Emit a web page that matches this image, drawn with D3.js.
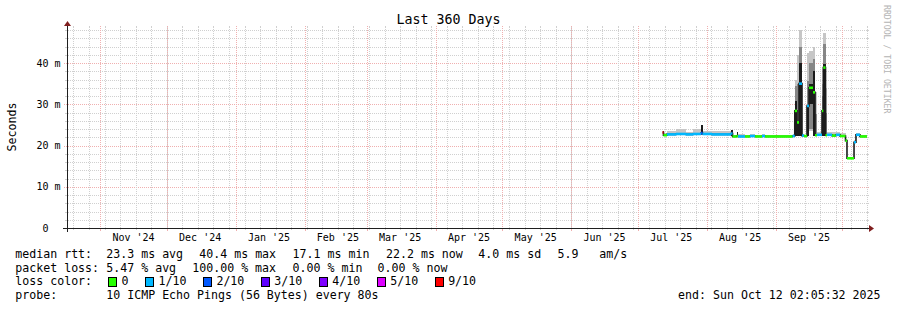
<!DOCTYPE html>
<html>
<head>
<meta charset="utf-8">
<script src="https://cdn.jsdelivr.net/npm/d3@7"></script>
<style>
  html, body { margin: 0; padding: 0; background: #fff; }
  svg { display: block; font-family: "DejaVu Sans Mono", monospace; }
  text { white-space: pre; }
</style>
</head>
<body>
<div id="chart"></div>
<script>
// ---- data ----
const title = "Last 360 Days";
const yLabel = "Seconds";
const watermark = "RRDTOOL / TOBI OETIKER";
const rangeStart = "2024-10-17T02:05:32";
const rangeEnd = "2025-10-12T02:05:32";

const yTicks = [0, 10, 20, 30, 40];
const yTickLabels = ["0  ", "10 m", "20 m", "30 m", "40 m"];

const monthStarts = ["2024-11-01", "2024-12-01", "2025-01-01", "2025-02-01", "2025-03-01",
  "2025-04-01", "2025-05-01", "2025-06-01", "2025-07-01", "2025-08-01", "2025-09-01"];
const monthLabels = ["Nov '24", "Dec '24", "Jan '25", "Feb '25", "Mar '25",
  "Apr '25", "May '25", "Jun '25", "Jul '25", "Aug '25", "Sep '25"];

// each step holds from its start until the next start (values in ms)
const stepStart = [
  "2025-07-12T02", "2025-07-12T12", "2025-07-14T02", "2025-07-18T03", "2025-07-22T15",
  "2025-07-25T19", "2025-07-29T10", "2025-07-30T02", "2025-08-03T08", "2025-08-11T22",
  "2025-08-12T14", "2025-08-14T10", "2025-08-15T01", "2025-08-18T05", "2025-08-20T10",
  "2025-08-22T17", "2025-08-25T20", "2025-08-27T05", "2025-09-08T14", "2025-09-09T14",
  "2025-09-10T14", "2025-09-11T12", "2025-09-12T20", "2025-09-13T17", "2025-09-15T02",
  "2025-09-16T00", "2025-09-17T19", "2025-09-18T17", "2025-09-19T14", "2025-09-21T20",
  "2025-09-22T10", "2025-09-23T10", "2025-09-24T02", "2025-09-26T08", "2025-09-28T02",
  "2025-09-29T22", "2025-10-02T10", "2025-10-03T02", "2025-10-06T06", "2025-10-07T03",
  "2025-10-08T22"];
const median = [
  23.2, 22.5, 22.7, 22.8, 22.7, 22.8, 23.0, 22.8, 22.7, 22.9,
  22.2, 22.3, 22.2, 22.2, 22.3, 22.2, 22.3, 22.2, 22.3, 28.4,
  25.6, 35.0, 22.4, 22.3, 29.6, 34.0, 32.9, 22.5, 22.6, 28.4,
  38.9, 22.5, 22.6, 22.4, 22.6, 22.3, 21.2, 16.9, 20.8, 22.6,
  22.2];
const lossCount = [
  9, 0, 1, 1, 1, 1, 2, 1, 1, 1,
  0, 0, 1, 0, 1, 0, 1, 0, 1, 0,
  0, 1, 1, 0, 1, 0, 0, 0, 1, 0,
  0, 0, 1, 0, 1, 0, 0, 0, 1, 1,
  0];
const smokeLo = [
  22.8, 22.4, 22.5, 22.6, 22.5, 22.6, 22.7, 22.6, 22.5, 22.6,
  22.1, 22.1, 22.1, 22.1, 22.1, 22.1, 22.1, 22.1, 22.1, 22.4,
  22.4, 22.4, 22.2, 22.1, 22.4, 23.6, 22.4, 22.3, 22.3, 22.4,
  22.4, 22.3, 22.4, 22.3, 22.4, 22.2, 21.0, 16.8, 20.6, 22.4,
  22.1];
const smokeHi = [
  23.6, 23.0, 23.6, 24.0, 23.4, 24.0, 25.0, 23.5, 23.6, 23.7,
  22.6, 23.4, 22.7, 22.6, 22.7, 22.5, 22.7, 22.5, 22.8, 36.0,
  42.0, 48.0, 22.8, 22.6, 42.5, 43.0, 44.0, 33.0, 23.2, 35.0,
  47.3, 34.0, 23.4, 23.2, 23.4, 23.0, 21.6, 17.3, 21.4, 23.0,
  22.6];
const midLo = [
  null, null, null, null, null, null, null, null, null, null,
  null, null, null, null, null, null, null, null, null, 22.4,
  23.0, 22.4, null, null, 22.4, 24.0, 22.4, 22.4, null, 22.4,
  22.4, 22.4, null, null, null, null, null, null, null, null,
  null];
const midHi = [
  null, null, null, null, null, null, null, null, null, null,
  null, null, null, null, null, null, null, null, null, 34.4,
  35.0, 44.0, null, null, 35.7, 40.0, 41.0, 27.7, null, 32.0,
  44.5, 28.0, null, null, null, null, null, null, null, null,
  null];
const coreLo = [
  22.6, null, null, null, null, null, 22.7, null, null, 22.3,
  null, 22.2, null, null, null, null, null, null, null, 22.4,
  22.4, 22.4, null, null, 22.4, 30.0, 22.4, null, null, 22.4,
  22.4, null, null, null, null, null, null, null, null, null,
  null];
const coreHi = [
  23.6, null, null, null, null, null, 25.0, null, null, 23.7,
  null, 23.4, null, null, null, null, null, null, null, 30.8,
  25.6, 40.0, null, null, 29.6, 35.0, 38.0, null, null, 28.4,
  39.7, null, null, null, null, null, null, null, null, null,
  null];

const lossLevels = ["0", "1/10", "2/10", "3/10", "4/10", "5/10", "9/10"];
const lossColors = ["#26ff00", "#00b8ff", "#0059ff", "#5e00ff", "#7e00ff", "#dd00ff", "#ff0000"];

const rttStats = ["23.3 ms avg", "40.4 ms max", "17.1 ms min", "22.2 ms now", "4.0 ms sd", "5.9", "am/s"];
const lossStats = ["5.47 % avg", "100.00 % max", "0.00 % min", "0.00 % now"];
const probeText = "10 ICMP Echo Pings (56 Bytes) every 80s";
const endText = "end: Sun Oct 12 02:05:32 2025";

// ---- layout ----
const width = 897, height = 310;
const xOrigin = 67, yOrigin = 228, xSize = 800, ySize = 200;
const yMax = 48.5;
const legendFont = 11.6;
const rowY = [258, 271.7, 285.3, 299];
const rttCols = [106.3, 199.3, 292.6, 386, 478.3, 557.6, 599.3];
const lossCols = [106.3, 192.3, 292.6, 377.6];

const parseFull = d3.utcParse("%Y-%m-%dT%H:%M:%S");
const parseHour = d3.utcParse("%Y-%m-%dT%H");
const parseDay = d3.utcParse("%Y-%m-%d");
const t0 = parseFull(rangeStart), t1 = parseFull(rangeEnd);

const x = d3.scaleUtc().domain([t0, t1]).range([xOrigin, xOrigin + xSize]);
const y = d3.scaleLinear().domain([0, yMax]).range([yOrigin, yOrigin - ySize]);
const snap = (v) => Math.round(v) + 0.5;

const svg = d3.select("#chart").append("svg")
  .attr("width", width).attr("height", height)
  .attr("viewBox", [0, 0, width, height]);

svg.append("rect").attr("width", width).attr("height", height).attr("fill", "#fff");

const minorCol = "#d0d0d0", majorCol = "#f0b0b0";

// ---- grid ----
const grid = svg.append("g").attr("shape-rendering", "crispEdges");
const yMinor = y.ticks(25).filter((v) => v % 10 !== 0);
grid.selectAll(".hminor").data(yMinor).join("line")
  .attr("x1", xOrigin - 1).attr("x2", xOrigin + xSize + 1)
  .attr("y1", (d) => snap(y(d))).attr("y2", (d) => snap(y(d)))
  .attr("stroke", minorCol).attr("stroke-dasharray", "1,1");
grid.selectAll(".hminort").data(yMinor).join("path")
  .attr("d", (d) => `M${xOrigin - 2},${snap(y(d))}H${xOrigin}M${xOrigin + xSize},${snap(y(d))}H${xOrigin + xSize + 2}`)
  .attr("stroke", minorCol);
grid.selectAll(".hmajor").data(yTicks.slice(1)).join("line")
  .attr("x1", xOrigin - 3).attr("x2", xOrigin + xSize + 2)
  .attr("y1", (d) => snap(y(d))).attr("y2", (d) => snap(y(d)))
  .attr("stroke", majorCol).attr("stroke-dasharray", "1,1");

const weeks = d3.utcSunday.range(t0, t1);
grid.selectAll(".vminor").data(weeks).join("line")
  .attr("x1", (d) => snap(x(d))).attr("x2", (d) => snap(x(d)))
  .attr("y1", yOrigin + 2).attr("y2", yOrigin - ySize - 2)
  .attr("stroke", minorCol).attr("stroke-dasharray", "1,1");
grid.selectAll(".vminort").data(weeks).join("path")
  .attr("d", (d) => `M${snap(x(d))},${yOrigin}V${yOrigin + 2}M${snap(x(d))},${yOrigin - ySize}V${yOrigin - ySize - 2}`)
  .attr("stroke", minorCol);
const months = d3.utcMonth.range(t0, t1);
grid.selectAll(".vmajor").data(months).join("line")
  .attr("x1", (d) => snap(x(d))).attr("x2", (d) => snap(x(d)))
  .attr("y1", yOrigin + 3).attr("y2", yOrigin - ySize - 2)
  .attr("stroke", majorCol).attr("stroke-dasharray", "1,1");
grid.selectAll(".vmajort").data(months).join("path")
  .attr("d", (d) => `M${snap(x(d))},${yOrigin}V${yOrigin + 3}`)
  .attr("stroke", majorCol);

// ---- data ----
const steps = stepStart.map((s, i) => ({
  t0: parseHour(s),
  t1: i + 1 < stepStart.length ? parseHour(stepStart[i + 1]) : t1,
  med: median[i], loss: lossCount[i],
  sLo: smokeLo[i], sHi: smokeHi[i],
  mLo: midLo[i], mHi: midHi[i],
  cLo: coreLo[i], cHi: coreHi[i],
}));

const plot = svg.append("g").attr("shape-rendering", "crispEdges");
const band = (cls, lo, hi, fill) =>
  plot.selectAll("." + cls).data(steps.filter((d) => d[lo] != null)).join("rect")
    .attr("class", cls)
    .attr("x", (d) => Math.round(x(d.t0)))
    .attr("width", (d) => Math.max(1, Math.round(x(d.t1)) - Math.round(x(d.t0))))
    .attr("y", (d) => Math.round(y(d[hi])))
    .attr("height", (d) => Math.max(1, Math.round(y(d[lo])) - Math.round(y(d[hi]))))
    .attr("fill", fill);
band("smoke", "sLo", "sHi", "#c6c6c6");
band("mid", "mLo", "mHi", "#868686");
band("core", "cLo", "cHi", "#1c1c1c");

const medPts = steps.map((d) => [x(d.t0), y(d.med)]);
medPts.push([x(t1), y(median[median.length - 1])]);
svg.append("path")
  .attr("d", d3.line().curve(d3.curveStepAfter)(medPts))
  .attr("fill", "none").attr("stroke", "#1c1c1c").attr("stroke-width", 1.6);

const lossIndex = (n) => (n >= 6 ? 6 : n);
svg.selectAll(".med").data(steps).join("line")
  .attr("x1", (d) => x(d.t0)).attr("x2", (d) => x(d.t1))
  .attr("y1", (d) => y(d.med)).attr("y2", (d) => y(d.med))
  .attr("stroke", (d) => lossColors[lossIndex(d.loss)])
  .attr("stroke-width", 2.6);

// ---- axes ----
const axisCol = "#1f1f1f", arrowCol = "#801f1f";
svg.append("path")
  .attr("d", `M${xOrigin - 4},${yOrigin + 0.5}H${xOrigin + xSize + 4}M${xOrigin + 0.5},${yOrigin + 4}V${yOrigin - ySize - 4}`)
  .attr("stroke", axisCol).attr("fill", "none").attr("shape-rendering", "crispEdges");
svg.append("path")
  .attr("d", `M${xOrigin + xSize + 2},${yOrigin - 3}L${xOrigin + xSize + 7},${yOrigin + 0.5}L${xOrigin + xSize + 2},${yOrigin + 4}Z`)
  .attr("fill", arrowCol);
svg.append("path")
  .attr("d", `M${xOrigin - 3},${yOrigin - ySize - 2}L${xOrigin + 0.5},${yOrigin - ySize - 7}L${xOrigin + 4},${yOrigin - ySize - 2}Z`)
  .attr("fill", arrowCol);

svg.selectAll(".ylab").data(yTicks).join("text")
  .attr("x", 60.5).attr("y", (d) => y(d) + 3.6)
  .attr("text-anchor", "end").attr("font-size", 10).attr("fill", "#000")
  .text((d, i) => yTickLabels[i]);

svg.selectAll(".xlab").data(monthStarts).join("text")
  .attr("x", (d) => x(d3.utcDay.offset(parseDay(d), 15)))
  .attr("y", 241)
  .attr("text-anchor", "middle").attr("font-size", 10).attr("fill", "#000")
  .text((d, i) => monthLabels[i]);

// ---- titles ----
svg.append("text").attr("x", 448.5).attr("y", 24)
  .attr("text-anchor", "middle").attr("font-size", 13.3).attr("fill", "#000")
  .text(title);
svg.append("text").attr("transform", "translate(15.5,127) rotate(-90)")
  .attr("text-anchor", "middle").attr("font-size", legendFont).attr("fill", "#000")
  .text(yLabel);
svg.append("text").attr("transform", "translate(884,5) rotate(90)")
  .attr("font-size", 8.2).attr("fill", "#b4b4b4")
  .text(watermark);

// ---- legend ----
const legend = svg.append("g").attr("font-size", legendFont).attr("fill", "#000");
const put = (txt, xx, yy, anchor) =>
  legend.append("text").attr("x", xx).attr("y", yy).attr("text-anchor", anchor || "start").text(txt);

put("median rtt:", 15.3, rowY[0]);
rttStats.forEach((s, i) => put(s, rttCols[i], rowY[0]));
put("packet loss:", 15.3, rowY[1]);
lossStats.forEach((s, i) => put(s, lossCols[i], rowY[1]));
put("loss color:", 15.3, rowY[2]);
let lx = 108;
const charW = legendFont * 0.602;
lossLevels.forEach((lab, i) => {
  legend.append("rect")
    .attr("x", lx + 0.5).attr("y", rowY[2] - 8).attr("width", 8).attr("height", 9)
    .attr("fill", lossColors[i]).attr("stroke", "#000").attr("shape-rendering", "crispEdges");
  put(lab, lx + 13.5, rowY[2]);
  lx += 14 + lab.length * charW + 16;
});
put("probe:", 15.3, rowY[3]);
put(probeText, 106.3, rowY[3]);
put(endText, 880.5, rowY[3], "end");
</script>
</body>
</html>
